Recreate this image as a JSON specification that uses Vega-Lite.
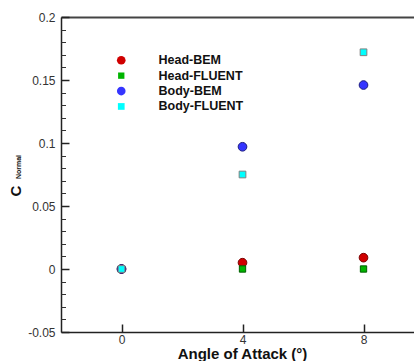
{
  "$schema": "https://vega.github.io/schema/vega-lite/v6.json",
  "width": 353,
  "height": 315,
  "autosize": {"type": "none"},
  "padding": {"left": 61, "top": 17, "right": 0, "bottom": 29},
  "background": "white",
  "config": {"view": {"stroke": null}, "font": "Liberation Sans"},
  "data": {
    "values": [
      {"series": "Head-BEM", "aoa": 0, "cn": 0},
      {"series": "Head-BEM", "aoa": 4, "cn": 0.005},
      {"series": "Head-BEM", "aoa": 8, "cn": 0.009},
      {"series": "Head-FLUENT", "aoa": 0, "cn": 0},
      {"series": "Head-FLUENT", "aoa": 4, "cn": 0},
      {"series": "Head-FLUENT", "aoa": 8, "cn": 0},
      {"series": "Body-BEM", "aoa": 0, "cn": 0},
      {"series": "Body-BEM", "aoa": 4, "cn": 0.097},
      {"series": "Body-BEM", "aoa": 8, "cn": 0.146},
      {"series": "Body-FLUENT", "aoa": 0, "cn": 0},
      {"series": "Body-FLUENT", "aoa": 4, "cn": 0.075},
      {"series": "Body-FLUENT", "aoa": 8, "cn": 0.172}
    ]
  },
  "layer": [
    {
      "mark": {"type": "point", "filled": true, "opacity": 1, "strokeWidth": 1},
      "encoding": {
        "x": {
          "field": "aoa", "type": "quantitative",
          "scale": {"domain": [-2, 9.669], "nice": false, "zero": false},
          "axis": {
            "orient": "bottom", "values": [0, 4, 8], "grid": false,
            "tickSize": -8, "tickColor": "#222", "tickWidth": 1.5,
            "labelPadding": 10, "labelFontSize": 12, "labelColor": "#333", "labelFlush": false,
            "domainColor": "#222", "domainWidth": 1.5,
            "title": "Angle of Attack (°)", "titleFontSize": 15, "titleFontWeight": "bold", "titleColor": "#111",
            "titleX": 181, "titleY": 26.5, "titleBaseline": "alphabetic", "titleAlign": "center"
          }
        },
        "y": {
          "field": "cn", "type": "quantitative",
          "scale": {"domain": [-0.05, 0.2], "nice": false, "zero": false},
          "axis": {
            "orient": "left", "values": [-0.05, 0, 0.05, 0.1, 0.15, 0.2], "grid": false,
            "labelExpr": "'' + datum.value",
            "tickSize": -8, "tickColor": "#222", "tickWidth": 1.5,
            "labelPadding": 14, "labelFontSize": 12, "labelColor": "#333", "labelFlush": false,
            "domainColor": "#222", "domainWidth": 1.5,
            "title": "C", "titleFontSize": 15, "titleFontWeight": "bold", "titleColor": "#111",
            "titleX": -46, "titleY": 173.5, "titleAngle": -90, "titleAlign": "center", "titleBaseline": "middle"
          }
        },
        "color": {
          "field": "series", "type": "nominal",
          "scale": {"domain": ["Head-BEM", "Head-FLUENT", "Body-BEM", "Body-FLUENT"], "range": ["#d00000", "#00b400", "#3535ff", "#00ffff"]},
          "legend": {
            "orient": "none", "legendX": 54, "legendY": 37, "padding": 0, "title": null,
            "labelFontSize": 12.5, "labelFontWeight": "bold", "labelColor": "#111", "labelOffset": 31,
            "rowPadding": 2.4, "symbolStrokeWidth": 0
          }
        },
        "shape": {
          "field": "series", "type": "nominal",
          "scale": {"domain": ["Head-BEM", "Head-FLUENT", "Body-BEM", "Body-FLUENT"], "range": ["circle", "square", "circle", "square"]}
        },
        "size": {
          "field": "series", "type": "nominal",
          "scale": {"type": "ordinal", "domain": ["Head-BEM", "Head-FLUENT", "Body-BEM", "Body-FLUENT"], "range": [75, 40, 75, 45]}
        },
        "stroke": {
          "field": "series", "type": "nominal",
          "scale": {"domain": ["Head-BEM", "Head-FLUENT", "Body-BEM", "Body-FLUENT"], "range": ["#7a0000", "#006000", "#1a1a80", "#808080"]},
          "legend": null
        }
      }
    },
    {
      "mark": {"type": "point", "opacity": 0},
      "encoding": {
        "x": {
          "field": "aoa", "type": "quantitative",
          "axis": {"orient": "top", "ticks": false, "labels": false, "title": null, "grid": false, "domainColor": "#444", "domainWidth": 2}
        },
        "y": {
          "field": "cn", "type": "quantitative",
          "axis": {
            "orient": "left", "grid": false, "domain": false, "labels": false,
            "values": [-0.04, -0.03, -0.02, -0.01, 0.01, 0.02, 0.03, 0.04, 0.06, 0.07, 0.08, 0.09, 0.11, 0.12, 0.13, 0.14, 0.16, 0.17, 0.18, 0.19],
            "tickSize": -4.5, "tickColor": "#333", "tickWidth": 1,
            "title": "Normal", "titleFontSize": 7, "titleFontWeight": "bold", "titleColor": "#111",
            "titleX": -42.5, "titleY": 149.5, "titleAngle": -90, "titleAlign": "center", "titleBaseline": "middle"
          }
        }
      }
    }
  ],
  "resolve": {"axis": {"x": "independent", "y": "independent"}}
}
